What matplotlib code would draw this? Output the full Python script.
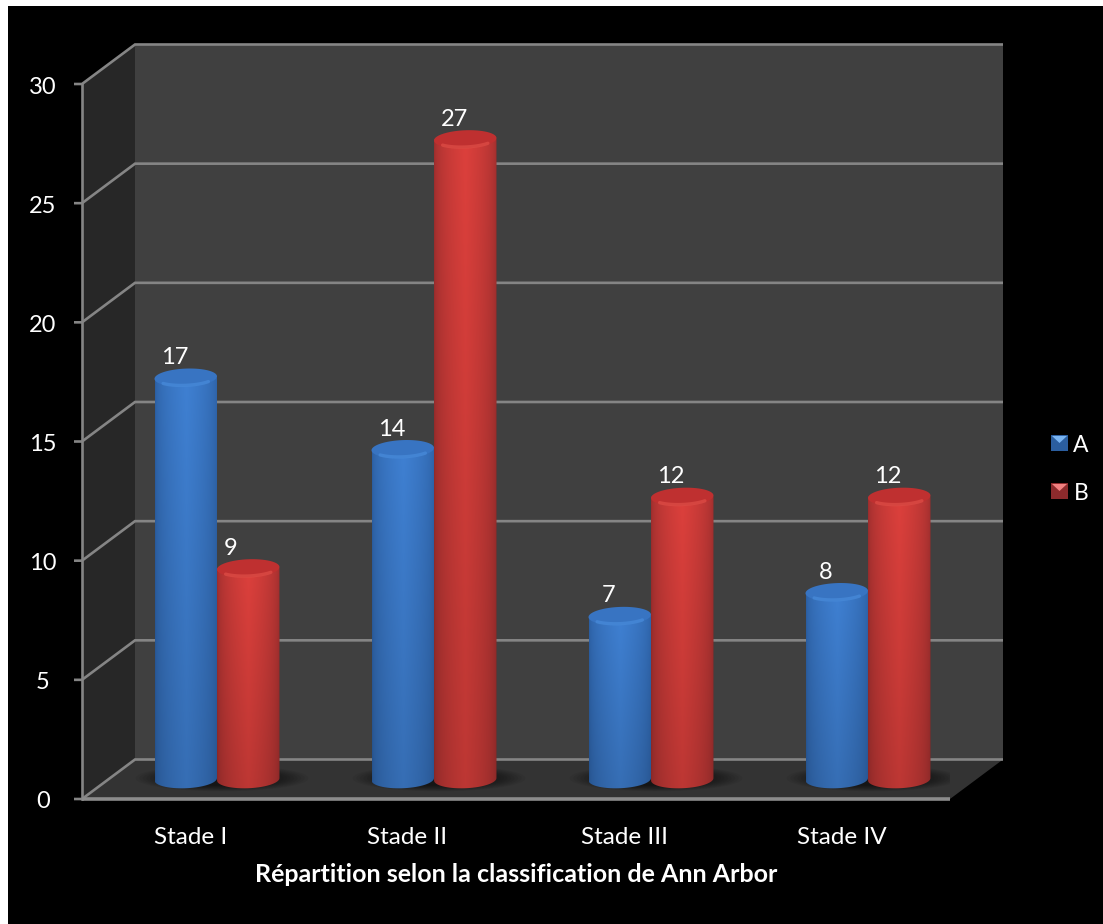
import numpy as np
import matplotlib
matplotlib.use("Agg")
import matplotlib.pyplot as plt
from matplotlib.colors import to_rgb
from matplotlib.patches import Polygon, PathPatch
from matplotlib.path import Path

# donnees du graphique
stades = ["Stade I", "Stade II", "Stade III", "Stade IV"]
serie_a = [17, 14, 7, 8]
serie_b = [9, 27, 12, 12]
graduations = [0, 5, 10, 15, 20, 25, 30]
noms_series = ["A", "B"]

W, H = 1103, 924
NOIR = "#000000"
GRILLE = "#858585"
MUR_FOND = "#404040"
MUR_COTE = "#272727"
SOL = "#333333"

plt.rcParams["font.family"] = ["Lato", "DejaVu Sans"]

fig = plt.figure(figsize=(W / 100, H / 100), dpi=100, facecolor="white")

# fond noir de la diapositive
fond = fig.add_axes([8 / W, 0, 1 - 8 / W, 1 - 6 / H])
fond.set_facecolor(NOIR)
fond.set_xticks([])
fond.set_yticks([])
for s in fond.spines.values():
    s.set_visible(False)

# axe principal : plan avant du graphique 3D
x0, x1 = 82, 950
y_bas, y_haut = 799, 84
ax = fig.add_axes([x0 / W, 1 - y_bas / H, (x1 - x0) / W, (y_bas - y_haut) / H])
ax.patch.set_visible(False)
for s in ax.spines.values():
    s.set_visible(False)
ax.set_xticks([])
ax.set_yticks([])

# conversion de pixels vers unites de l'axe
nx = len(stades)
ymax = graduations[-1]
ux = nx / (x1 - x0)
uy = ymax / (y_bas - y_haut)
dx = 53 * ux
dy = 39.5 * uy

# murs et sol
ax.add_patch(Polygon([(dx, dy), (nx + dx, dy), (nx + dx, ymax + dy), (dx, ymax + dy)],
                     fc=MUR_FOND, ec="none", clip_on=False, zorder=1))
ax.add_patch(Polygon([(0, 0), (dx, dy), (dx, ymax + dy), (0, ymax)],
                     fc=MUR_COTE, ec="none", clip_on=False, zorder=1))
ax.add_patch(Polygon([(0, 0), (nx, 0), (nx + dx, dy), (dx, dy)],
                     fc=SOL, ec="none", clip_on=False, zorder=1))

# quadrillage
for g in graduations:
    ax.plot([-8 * ux, 0, dx, nx + dx], [g, g, g + dy, g + dy], color=GRILLE, lw=1.9,
            clip_on=False, zorder=2, solid_capstyle="butt", solid_joinstyle="miter")
    ax.text(-39 * ux, g - 3 * uy, str(g), color="white", fontsize=17, ha="center", va="center",
            clip_on=False)
ax.plot([0, 0], [0, ymax], color=GRILLE, lw=1.9, clip_on=False, zorder=2)
ax.plot([0, nx], [0, 0], color="#8c8c8c", lw=2.6, clip_on=False, zorder=2, solid_capstyle="butt")


# degrade du corps d'un cylindre : plus sombre sur les bords et vers le bas
def degrade(sombre, clair):
    t = np.linspace(0, 1, 200)
    v = np.linspace(1.0, 0.86, 200)
    f = np.clip(1 - np.abs(t - 0.5) / 0.5, 0, 1) ** 0.45
    sombre = np.array(to_rgb(sombre))
    clair = np.array(to_rgb(clair))
    ligne = sombre[None, :] + (clair - sombre)[None, :] * f[:, None]
    return ligne[None, :, :] * v[:, None, None]


def cylindre(xg, largeur, valeur, sombre, clair, sommet, reflet, zo):
    demi_h = 9 * uy
    pente = 1.2 * uy
    base = dy * 0.5
    haut = valeur + base - 3.5 * uy
    xd = xg + largeur
    xc = xg + largeur / 2
    th = np.linspace(np.pi, 2 * np.pi, 50)
    cx_arc = np.cos(th)
    bas_x = xc + largeur / 2 * cx_arc
    bas_y = base + demi_h * np.sin(th) + pente * cx_arc
    verts = list(zip(bas_x, bas_y)) + [(xd, haut), (xg, haut), (xg, base)]
    corps = PathPatch(Path(verts), transform=ax.transData, fc="none", ec="none")
    ax.add_patch(corps)
    im = ax.imshow(degrade(sombre, clair), extent=[xg, xd, base - demi_h - pente, haut], aspect="auto",
                   zorder=zo, interpolation="bilinear")
    im.set_clip_path(corps)
    # dessus du cylindre, legerement incline
    t = np.linspace(0, 2 * np.pi, 90)
    ax.fill(xc + largeur / 2 * np.cos(t), haut + demi_h * np.sin(t) + pente * np.cos(t),
            fc=sommet, ec="none", zorder=zo + 0.1)
    t = np.linspace(np.pi * 1.22, np.pi * 1.78, 40)
    ax.plot(xc + largeur / 2 * 0.94 * np.cos(t), haut + demi_h * 0.86 * np.sin(t) + pente * np.cos(t),
            color=reflet, lw=2.4, alpha=0.5, zorder=zo + 0.2, solid_capstyle="round")
    return xc


def ombre(xc, largeur):
    # ombre portee sur le sol
    base = dy * 0.5
    for k in np.linspace(1.0, 0.55, 12):
        t = np.linspace(0, 2 * np.pi, 60)
        ax.fill(xc + 5 * ux + largeur * 1.38 * k * np.cos(t), base + 1 * uy + 13 * uy * k * np.sin(t),
                fc="black", ec="none", alpha=0.06, zorder=3)


# petits ecarts de position des etiquettes de la serie B
decale_b = [-18, -11, -12, -12]

larg = 62.5 * ux
for i in range(nx):
    centre = i + 0.5 + dx * 0.5
    ombre(centre, larg)
    xa = cylindre(centre - larg, larg, serie_a[i], "#2a5c9e", "#3f80d2", "#3874c2", "#4f95e4", 4)
    ax.text(xa - 11 * ux, serie_a[i] + dy * 0.5 + 6 * uy, str(serie_a[i]), color="white", fontsize=17,
            ha="center", va="bottom", zorder=8)
    xb = cylindre(centre, larg, serie_b[i], "#962c2c", "#dc403c", "#bf3030", "#ec5a50", 5)
    ax.text(xb + decale_b[i] * ux, serie_b[i] + dy * 0.5 + 6 * uy, str(serie_b[i]), color="white",
            fontsize=17, ha="center", va="bottom", zorder=8)
    ax.text(i + 0.5, -38 * uy, stades[i], color="white", fontsize=17.5, ha="center", va="center",
            clip_on=False)

ax.set_xlim(0, nx)
ax.set_ylim(0, ymax)

fig.text(516 / W, 1 - 874 / H, "Répartition selon la classification de Ann Arbor", color="white",
         fontsize=18, fontweight="bold", ha="center", va="center")

# legende
cx = fig.add_axes([0, 0, 1, 1])
cx.set_xlim(0, W)
cx.set_ylim(H, 0)
cx.axis("off")
for nom, yl, sombre, clair in zip(noms_series, [443, 491], ["#2b5e9f", "#8c2a2c"], ["#79b4f2", "#f08080"]):
    xl = 1051
    cx.add_patch(Polygon([(xl, yl - 8), (xl + 17, yl - 8), (xl + 17, yl + 8), (xl, yl + 8)], fc=sombre, ec="none"))
    cx.add_patch(Polygon([(xl + 1, yl - 7), (xl + 16, yl - 7), (xl + 8.5, yl)], fc=clair, ec="none"))
    cx.text(xl + 30, yl + 2, nom, color="white", fontsize=16.5, ha="center", va="center")

fig.savefig("out.png", dpi=100, facecolor=fig.get_facecolor())
